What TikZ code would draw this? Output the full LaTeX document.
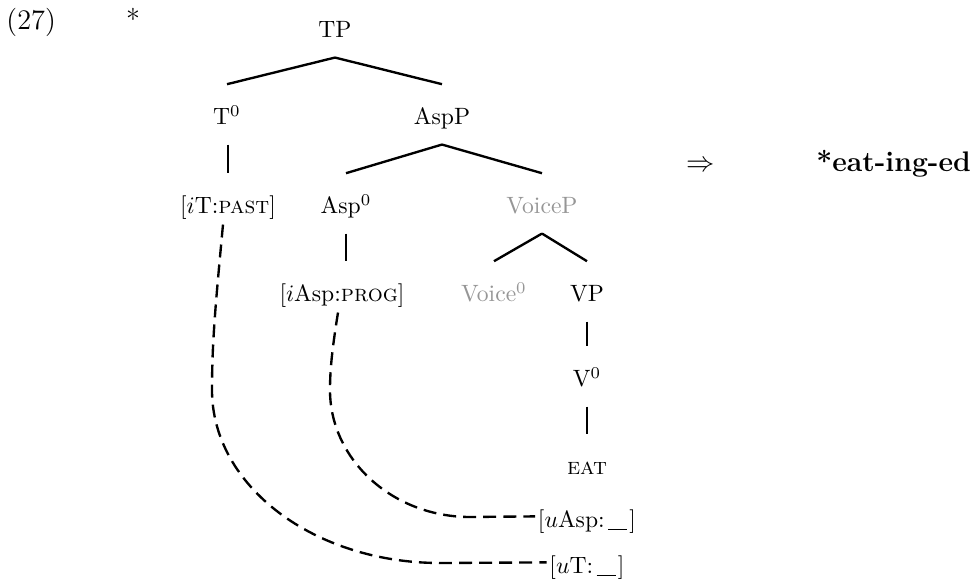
\documentclass[tikz,border=0pt]{standalone}
\usepackage{fontspec}
\usetikzlibrary{calc}
\definecolor{ghost}{RGB}{150,150,150}
\tikzset{
  px/.style={x=0.4237pt,y=-0.4237pt},
  tn/.style={anchor=base, inner xsep=1pt, inner ysep=0pt, text height=12pt, text depth=3pt, font=\fontsize{10}{12}\selectfont},
  branch/.style={line width=1pt},
  dep/.style={line width=1pt, dash pattern=on 5.5pt off 3pt},
  big/.style={font=\fontsize{12}{14}\selectfont, inner sep=0pt},
  bigbold/.style={font=\fontsize{12}{14}\selectfont\bfseries, inner sep=0pt},
}
\newcommand\treebranch[2]{\draw[branch] ($(#1.south)+(0,12)$) -- ($(#2.north)+(0,-12)$);}
\newcommand\gapline{\kern1.5pt\rule[-1.2pt]{8pt}{0.45pt}\kern1pt}
\begin{document}
\begin{tikzpicture}[px]
\useasboundingbox (0,0) rectangle (978,580);
% example number and judgement
\node[big, anchor=base west] (ex) at (6,30) {(27)};
\node[big, anchor=base] (star) at (133,30) {*};
% tree nodes
\node[tn] (TP) at (335,38) {TP};
\node[tn] (T0) at (227,125) {T$^0$};
\node[tn] (AspP) at (442,125) {AspP};
\node[tn] (iT) at (228,214) {[$i$T:\textsc{past}]};
\node[tn] (Asp0) at (346,214) {Asp$^0$};
\node[tn, text=ghost] (VoiceP) at (542,214) {VoiceP};
\node[tn] (iAsp) at (342,302) {[$i$Asp:\textsc{prog}]};
\node[tn, text=ghost] (Voice0) at (494,302) {Voice$^0$};
\node[tn] (VP) at (587,302) {VP};
\node[tn] (V0) at (587,387) {V$^0$};
\node[tn] (EAT) at (587,475) {\textsc{eat}};
\node[tn] (uAsp) at (587,527) {[$u$Asp:\gapline]};
\node[tn] (uT) at (587,573) {[$u$T:\gapline]};
% result
\node[big, anchor=base] (arrow) at (701,172) {$\Rightarrow$};
\node[bigbold, anchor=base west] (form) at (816,172) {*eat-ing-ed};
% branches
\treebranch{TP}{T0}
\treebranch{TP}{AspP}
\draw[branch] ($(T0.south -| iT.north)+(0,12)$) -- ($(iT.north)+(0,-12)$);
\treebranch{AspP}{Asp0}
\treebranch{AspP}{VoiceP}
\draw[branch] ($(Asp0.south)+(0,12)$) -- ($(Asp0.south |- iAsp.north)+(0,-12)$);
\treebranch{VoiceP}{Voice0}
\treebranch{VoiceP}{VP}
\treebranch{VP}{V0}
\treebranch{V0}{EAT}
% agreement dependencies
\coordinate (oA) at (212,390);
\coordinate (oB) at (440,563);
\draw[dep] ($(iT.south)+(-5,3)$) .. controls (216,300) and (212,340) .. (oA)
  .. controls (212,486) and (314,563) .. (oB) -- (uT.west);
\coordinate (iA) at (330,390);
\coordinate (iB) at (470,517);
\draw[dep] ($(iAsp.south)+(-4,3)$) .. controls (332,350) and (330,370) .. (iA)
  .. controls (330,460) and (393,517) .. (iB) -- (uAsp.west);
\end{tikzpicture}
\end{document}
